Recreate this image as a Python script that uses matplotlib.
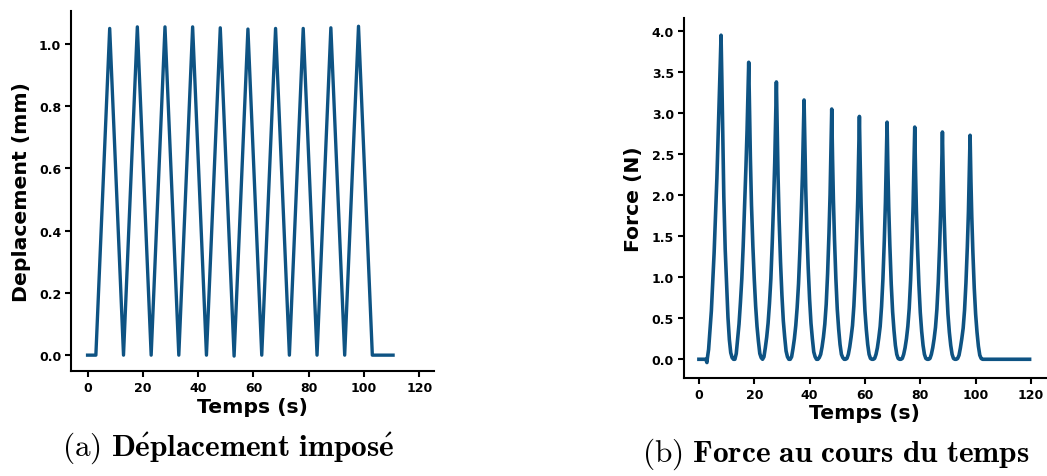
import numpy as np
import matplotlib
matplotlib.use("Agg")
import matplotlib.pyplot as plt

# imposed displacement (triangle signal)
disp_t = [0, 3, 8, 13, 18, 23, 28, 33, 38, 43, 48, 53, 58, 63, 68, 73, 78, 83, 88, 93, 98, 103, 110.5]
disp_mm = [0, 0, 1.05, 0, 1.055, 0, 1.055, 0, 1.055, 0, 1.052, -0.003, 1.048, 0,
           1.05, 0, 1.05, 0, 1.052, 0, 1.057, 0, 0]

# force: one row per loading cycle, sampled at the same offsets from the peak
peak_t = [8, 18, 28, 38, 48, 58, 68, 78, 88, 98]
offsets = [-5, -4.5, -4, -3.5, -3, -2.5, -2, -1.5, -1, -0.6, -0.3, 0,
           0.3, 0.6, 1, 1.5, 2, 2.5, 3, 3.5, 4, 4.5]
force_cycles = [
    [0, 0.12, 0.36, 0.59, 0.95, 1.30, 1.74, 2.21, 2.77, 3.20, 3.59, 3.95, 3.40, 2.77, 1.98, 1.34, 0.91, 0.51, 0.24, 0.08, 0.02, 0.0],
    [0, 0.07, 0.25, 0.43, 0.69, 0.98, 1.38, 1.85, 2.35, 2.79, 3.22, 3.62, 3.04, 2.46, 1.88, 1.38, 0.98, 0.65, 0.40, 0.22, 0.07, 0.02],
    [0, 0.03, 0.14, 0.27, 0.44, 0.68, 0.98, 1.42, 1.93, 2.40, 2.87, 3.38, 2.77, 2.23, 1.69, 1.18, 0.78, 0.47, 0.27, 0.10, 0.03, 0],
    [0, 0.03, 0.13, 0.25, 0.41, 0.63, 0.92, 1.33, 1.80, 2.24, 2.69, 3.16, 2.59, 2.09, 1.58, 1.11, 0.73, 0.44, 0.25, 0.09, 0.03, 0],
    [0, 0.02, 0.06, 0.15, 0.27, 0.43, 0.67, 1.04, 1.53, 2.01, 2.50, 3.05, 2.44, 1.95, 1.46, 0.98, 0.61, 0.37, 0.18, 0.06, 0.02, 0],
    [0, 0.01, 0.06, 0.15, 0.27, 0.41, 0.65, 1.01, 1.48, 1.95, 2.43, 2.96, 2.37, 1.89, 1.42, 0.95, 0.59, 0.36, 0.18, 0.06, 0.01, 0],
    [0, 0.01, 0.06, 0.14, 0.26, 0.40, 0.64, 0.98, 1.45, 1.91, 2.37, 2.89, 2.31, 1.85, 1.39, 0.92, 0.58, 0.35, 0.17, 0.06, 0.01, 0],
    [0, 0.01, 0.06, 0.14, 0.25, 0.40, 0.62, 0.96, 1.42, 1.87, 2.32, 2.83, 2.26, 1.81, 1.36, 0.91, 0.57, 0.34, 0.17, 0.06, 0.01, 0],
    [0, 0.01, 0.06, 0.14, 0.25, 0.39, 0.61, 0.94, 1.39, 1.83, 2.27, 2.77, 2.22, 1.77, 1.33, 0.89, 0.55, 0.33, 0.17, 0.06, 0.01, 0],
    [0, 0.01, 0.05, 0.14, 0.25, 0.38, 0.60, 0.93, 1.37, 1.80, 2.24, 2.73, 2.18, 1.75, 1.31, 0.87, 0.55, 0.33, 0.16, 0.05, 0.01, 0],
]
# rest before loading and after the last cycle
pre_t = [0, 2.5, 2.9]
pre_f = [0.0, 0.0, -0.04]
post_t = [103, 119.5]
post_f = [0.0, 0.0]

force_t = list(pre_t)
force_n = list(pre_f)
for tp, row in zip(peak_t, force_cycles):
    force_t += [tp + o for o in offsets]
    force_n += row
force_t += post_t
force_n += post_f

blue = '#0e5383'

fig = plt.figure(figsize=(10.47, 4.77), dpi=100)
ax1 = fig.add_axes([0.0678, 0.2201, 0.3467, 0.7547])
ax2 = fig.add_axes([0.653, 0.2055, 0.3457, 0.7547])

ax1.plot(disp_t, disp_mm, color=blue, lw=2.4, solid_joinstyle='round')
ax2.plot(force_t, force_n, color=blue, lw=2.6, solid_joinstyle='round')

ax1.set_xlim(-6, 125.3)
ax1.set_ylim(-0.051, 1.106)
ax1.set_yticks(np.arange(0, 1.01, 0.2))
ax2.set_xlim(-5.5, 125.3)
ax2.set_ylim(-0.228, 4.16)
ax2.set_yticks(np.arange(0, 4.01, 0.5))

for ax in (ax1, ax2):
    ax.set_xticks(np.arange(0, 121, 20))
    ax.yaxis.set_major_formatter(matplotlib.ticker.FormatStrFormatter('%.1f'))
    for s in ('top', 'right'):
        ax.spines[s].set_visible(False)
    for s in ('left', 'bottom'):
        ax.spines[s].set_linewidth(1.5)
    ax.tick_params(width=1.5, length=4, pad=3, labelsize=9)
    for lab in ax.get_xticklabels() + ax.get_yticklabels():
        lab.set_fontweight('bold')
    ax.set_xlabel('Temps (s)', fontsize=14.7, fontweight='bold', labelpad=2)

ax1.set_ylabel('Deplacement (mm)', fontsize=14.7, fontweight='bold', labelpad=6)
ax2.set_ylabel('Force (N)', fontsize=14.7, fontweight='bold', labelpad=6)

plt.rcParams['mathtext.fontset'] = 'cm'
fig.text(62 / 1047, 1 - 456 / 477, r'$\mathrm{(a)}\ \mathbf{D\acute{e}placement\ impos\acute{e}}$',
         fontsize=22.5, ha='left', va='baseline')
fig.text(642 / 1047, 1 - 462 / 477, r'$\mathrm{(b)}\ \mathbf{Force\ au\ cours\ du\ temps}$',
         fontsize=22.5, ha='left', va='baseline')

fig.savefig('out.png', dpi=100)
